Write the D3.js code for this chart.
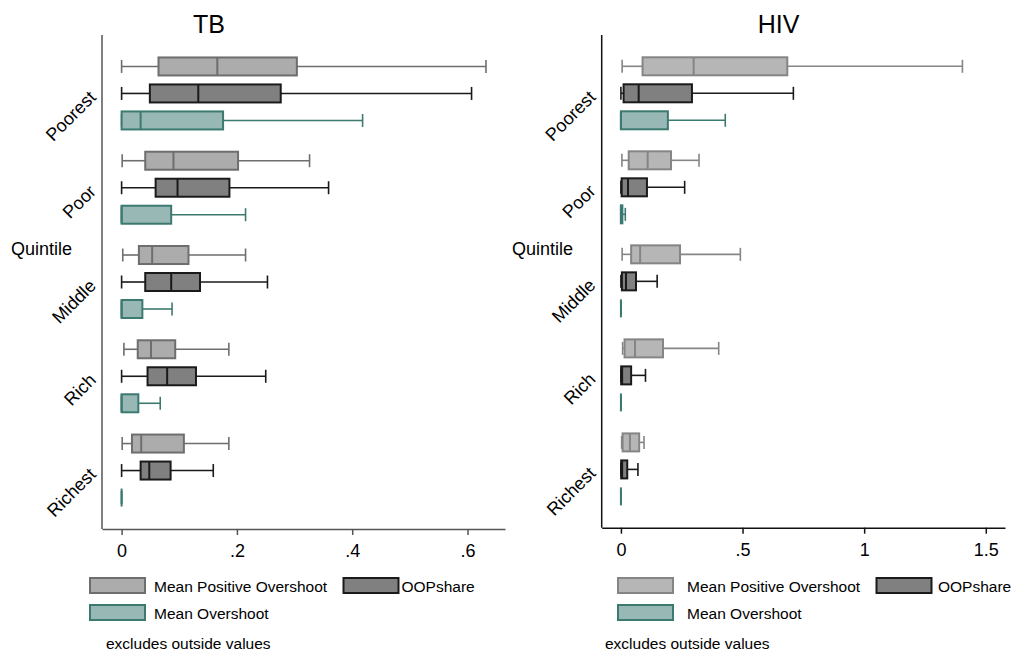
<!DOCTYPE html>
<html>
<head>
<meta charset="utf-8">
<script src="https://cdn.jsdelivr.net/npm/d3@7"></script>
<style>
  html, body { margin: 0; padding: 0; background: #fff; }
  svg { display: block; font-family: "Liberation Sans", Arial, sans-serif; }
</style>
</head>
<body>
<svg id="chart" width="1014" height="651"></svg>
<script>
// Categories
const quintiles = ["Poorest", "Poor", "Middle", "Rich", "Richest"];
const seriesNames = ["Mean Positive Overshoot", "OOPshare", "Mean Overshoot"];

// Five-number summaries per quintile: [lower whisker, q1, median, q3, upper whisker]
const tbMeanPositiveOvershoot = [
  [0.000, 0.064, 0.166, 0.304, 0.632],
  [0.001, 0.041, 0.090, 0.202, 0.326],
  [0.002, 0.030, 0.053, 0.116, 0.215],
  [0.004, 0.028, 0.051, 0.093, 0.186],
  [0.001, 0.018, 0.034, 0.108, 0.186]
];
const tbOOPshare = [
  [0.000, 0.049, 0.133, 0.276, 0.607],
  [0.000, 0.059, 0.097, 0.187, 0.359],
  [0.000, 0.041, 0.086, 0.136, 0.253],
  [0.000, 0.045, 0.079, 0.129, 0.250],
  [0.000, 0.033, 0.048, 0.085, 0.159]
];
const tbMeanOvershoot = [
  [0.000, 0.000, 0.033, 0.176, 0.418],
  [0.000, 0.000, 0.000, 0.086, 0.215],
  [0.000, 0.000, 0.000, 0.036, 0.0875],
  [0.000, 0.000, 0.000, 0.029, 0.067],
  [0.000, 0.000, 0.000, 0.000, 0.000]
];

const hivMeanPositiveOvershoot = [
  [0.005, 0.089, 0.299, 0.684, 1.404],
  [0.004, 0.032, 0.110, 0.206, 0.321],
  [0.005, 0.042, 0.079, 0.243, 0.491],
  [0.007, 0.015, 0.058, 0.173, 0.402],
  [0.003, 0.007, 0.037, 0.075, 0.095]
];
const hivOOPshare = [
  [0.000, 0.011, 0.073, 0.292, 0.709],
  [0.000, 0.003, 0.029, 0.107, 0.262],
  [0.000, 0.004, 0.021, 0.062, 0.149],
  [0.000, 0.001, 0.005, 0.042, 0.101],
  [0.000, 0.001, 0.005, 0.026, 0.070]
];
const hivMeanOvershoot = [
  [0.000, 0.000, 0.000, 0.193, 0.429],
  [0.000, 0.000, 0.000, 0.006, 0.018],
  [0.000, 0.000, 0.000, 0.000, 0.000],
  [0.000, 0.000, 0.000, 0.000, 0.000],
  [0.000, 0.000, 0.000, 0.000, 0.000]
];

// Tick labels
const tbTicks = [0, 0.2, 0.4, 0.6];
const tbTickLabels = ["0", ".2", ".4", ".6"];
const hivTicks = [0, 0.5, 1, 1.5];
const hivTickLabels = ["0", ".5", "1", "1.5"];

const svg = d3.select("#chart");

function drawPanel(cfg) {
  const g = svg.append("g");
  const x = d3.scaleLinear().domain(cfg.domain).range([cfg.left, cfg.right]);
  const yGroup = d3.scalePoint().domain(quintiles).range([cfg.top, cfg.bottom]).padding(0.62);
  const ySeries = d3.scalePoint().domain(seriesNames).range([-27, 27]);
  const boxH = 18, capH = 13;

  // title
  g.append("text").attr("x", cfg.titleX).attr("y", 33)
    .attr("text-anchor", "middle").attr("font-size", 25).attr("fill", "#000")
    .text(cfg.title);

  // axes
  g.append("line").attr("x1", cfg.left).attr("x2", cfg.left)
    .attr("y1", cfg.top).attr("y2", cfg.bottom)
    .attr("stroke", cfg.axisColor).attr("stroke-width", 1.5);
  const xAxis = d3.axisBottom(x).tickValues(cfg.ticks)
    .tickFormat((d, i) => cfg.tickLabels[i]).tickSize(6).tickSizeOuter(0).tickPadding(5);
  const ax = g.append("g").attr("transform", `translate(0,${cfg.bottom})`).call(xAxis);
  ax.select(".domain").attr("stroke", cfg.axisColor).attr("stroke-width", 1.5);
  ax.selectAll(".tick line").attr("stroke", cfg.axisColor).attr("stroke-width", 1.5);
  ax.selectAll(".tick text").attr("font-size", 18).attr("fill", "#000")
    .attr("y", 28).attr("dy", null)
    .attr("font-family", "Liberation Sans, Arial, sans-serif");

  // category labels
  quintiles.forEach(q => {
    const cy = yGroup(q);
    g.append("text")
      .attr("transform", `translate(${cfg.left - 5},${cy + 5}) rotate(-45)`)
      .attr("text-anchor", "end").attr("font-size", 18).attr("fill", "#000")
      .text(q);
  });
  g.append("text").attr("x", cfg.quintileX).attr("y", 255)
    .attr("font-size", 18).attr("fill", "#000").text("Quintile");

  // boxes
  cfg.series.forEach((s, si) => {
    const sname = seriesNames[si];
    s.data.forEach((v, qi) => {
      const cy = yGroup(quintiles[qi]) + ySeries(sname);
      const [lw, q1, med, q3, uw] = v;
      const bg = g.append("g");
      // whiskers
      bg.append("line").attr("x1", x(lw)).attr("x2", x(q1)).attr("y1", cy).attr("y2", cy)
        .attr("stroke", s.stroke).attr("stroke-width", 1.6);
      bg.append("line").attr("x1", x(q3)).attr("x2", x(uw)).attr("y1", cy).attr("y2", cy)
        .attr("stroke", s.stroke).attr("stroke-width", 1.6);
      [lw, uw].forEach(w => {
        bg.append("line").attr("x1", x(w)).attr("x2", x(w))
          .attr("y1", cy - capH / 2).attr("y2", cy + capH / 2)
          .attr("stroke", s.stroke).attr("stroke-width", 1.6);
      });
      // box
      bg.append("rect").attr("x", x(q1)).attr("y", cy - boxH / 2)
        .attr("width", Math.max(0, x(q3) - x(q1))).attr("height", boxH)
        .attr("fill", s.fill).attr("stroke", s.stroke).attr("stroke-width", 2);
      // median
      bg.append("line").attr("x1", x(med)).attr("x2", x(med))
        .attr("y1", cy - boxH / 2).attr("y2", cy + boxH / 2)
        .attr("stroke", s.stroke).attr("stroke-width", 2);
    });
  });

  // legend
  const lg = g.append("g");
  const legendRows = [
    { i: 0, bx: cfg.leg.b1, tx: cfg.leg.t1, y: 578 },
    { i: 1, bx: cfg.leg.b2, tx: cfg.leg.t2, y: 578 },
    { i: 2, bx: cfg.leg.b1, tx: cfg.leg.t1, y: 605 }
  ];
  legendRows.forEach(r => {
    const s = cfg.series[r.i];
    lg.append("rect").attr("x", r.bx).attr("y", r.y).attr("width", 55).attr("height", 15)
      .attr("fill", s.fill).attr("stroke", s.stroke).attr("stroke-width", 2);
    lg.append("text").attr("x", r.tx).attr("y", r.y + 14)
      .attr("font-size", 15.5).attr("fill", "#000").text(seriesNames[r.i]);
  });
  lg.append("text").attr("x", cfg.noteX).attr("y", 649)
    .attr("font-size", 15.5).attr("fill", "#000").text("excludes outside values");
}

drawPanel({
  title: "TB", titleX: 209,
  domain: [-0.034, 0.665], left: 102, right: 505, top: 35, bottom: 529,
  axisColor: "#555555",
  ticks: tbTicks, tickLabels: tbTickLabels,
  quintileX: 11,
  series: [
    { data: tbMeanPositiveOvershoot, fill: "#acacac", stroke: "#6e6e6e" },
    { data: tbOOPshare, fill: "#808080", stroke: "#1a1a1a" },
    { data: tbMeanOvershoot, fill: "#97b8b4", stroke: "#3c7a70" }
  ],
  leg: { b1: 90, t1: 154, b2: 343.5, t2: 401.5 },
  noteX: 106
});

drawPanel({
  title: "HIV", titleX: 778.5,
  domain: [-0.079, 1.579], left: 601.7, right: 1005, top: 35, bottom: 527.7,
  axisColor: "#111111",
  ticks: hivTicks, tickLabels: hivTickLabels,
  quintileX: 512,
  series: [
    { data: hivMeanPositiveOvershoot, fill: "#b6b6b6", stroke: "#858585" },
    { data: hivOOPshare, fill: "#808080", stroke: "#1a1a1a" },
    { data: hivMeanOvershoot, fill: "#97b8b4", stroke: "#3c7a70" }
  ],
  leg: { b1: 618, t1: 687, b2: 876.5, t2: 938 },
  noteX: 605
});
</script>
</body>
</html>
